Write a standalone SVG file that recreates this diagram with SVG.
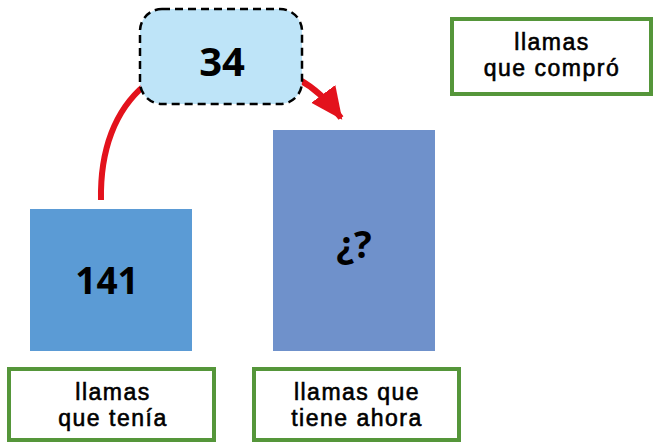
<svg xmlns="http://www.w3.org/2000/svg" width="655" height="444" viewBox="0 0 655 444">
<defs>
<style>
.lbl{fill:#fff;stroke:#55963A;stroke-width:4}
.t{font-family:"Liberation Sans",Arial,sans-serif;font-size:23px;letter-spacing:1.5px;fill:#000;stroke:#000;stroke-width:0.6;text-anchor:middle}
.n{font-family:"Open Sans","Liberation Sans",sans-serif;font-weight:700;fill:#000;text-anchor:middle}
.c{fill:none;stroke:#E3121C;stroke-width:6}
</style>
<marker id="ah" markerUnits="userSpaceOnUse" markerWidth="32" markerHeight="32" refX="28" refY="14" orient="auto" viewBox="0 0 30 28">
<path d="M0,0 L30,14 L0,28 Z" fill="#E3121C"/>
</marker>
</defs>
<g id="connectors">
<path class="c" d="M101,200 C100,150 115,110 145,85"/>
<path class="c" d="M298,79 C313,87 327,99 341,118" marker-end="url(#ah)"/>
</g>
<g id="node-34">
<rect x="140" y="9" width="162" height="95" rx="22" fill="#BEE4F8" stroke="#000" stroke-width="2.5" stroke-dasharray="8,5"/>
<text class="n" x="222" y="76" font-size="40">34</text>
</g>
<g id="node-141">
<rect x="30" y="209" width="162" height="142" fill="#5B9BD5"/>
<text class="n" x="107" y="294" font-size="37">141</text>
</g>
<g id="node-q">
<rect x="273" y="130" width="162" height="221" fill="#6F91CB"/>
<text class="n" x="354" y="258" font-size="37">¿?</text>
</g>
<g id="label-compro">
<rect class="lbl" x="452" y="19" width="199" height="75"/>
<text class="t" x="552" y="50">llamas</text>
<text class="t" x="552" y="76">que compró</text>
</g>
<g id="label-tenia">
<rect class="lbl" x="9" y="369" width="205" height="71"/>
<text class="t" x="113" y="400">llamas</text>
<text class="t" x="113" y="426">que tenía</text>
</g>
<g id="label-ahora">
<rect class="lbl" x="254" y="369" width="205" height="71"/>
<text class="t" x="357" y="400">llamas que</text>
<text class="t" x="357" y="426">tiene ahora</text>
</g>
</svg>
